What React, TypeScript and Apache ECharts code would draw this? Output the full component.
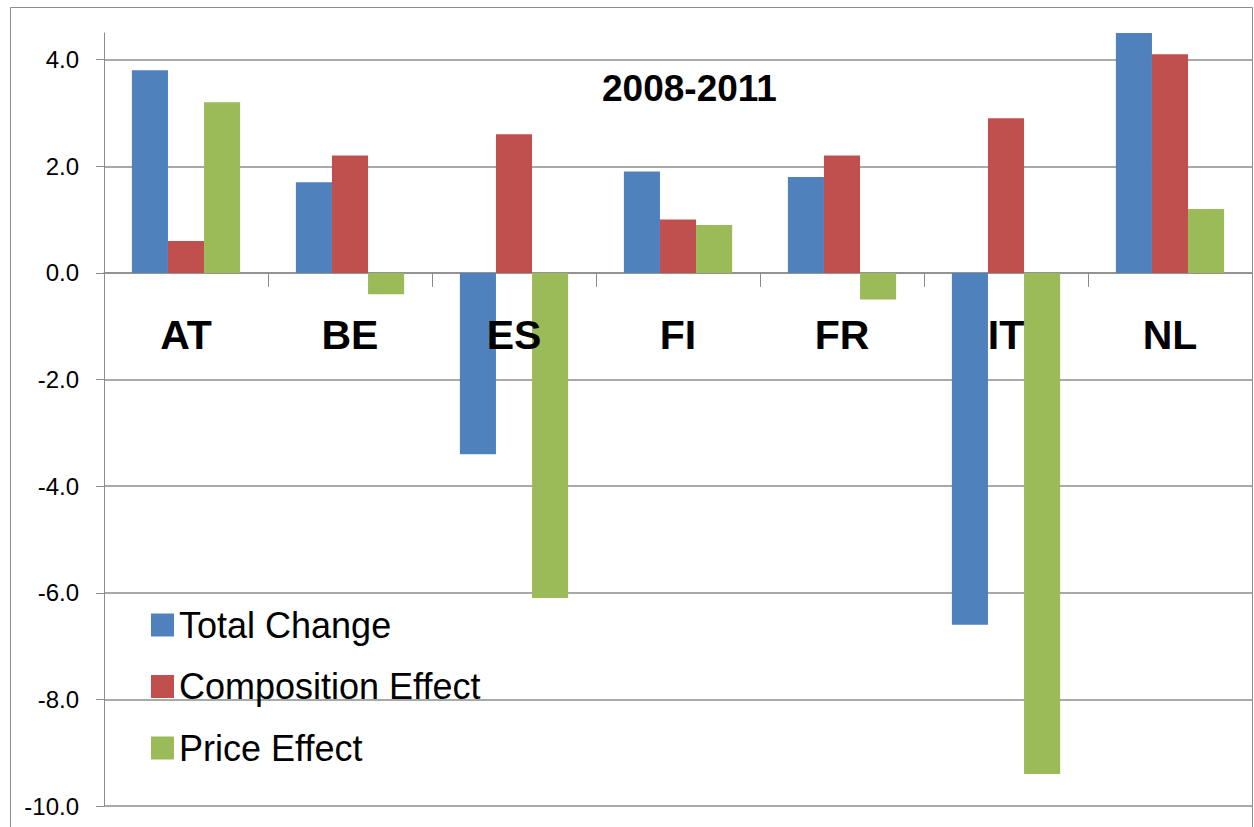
import React, { useEffect, useRef } from "react";
import * as echarts from "echarts";

const categories = ["AT", "BE", "ES", "FI", "FR", "IT", "NL"];
const totalChange = [3.8, 1.7, -3.4, 1.9, 1.8, -6.6, 4.5];
const compositionEffect = [0.6, 2.2, 2.6, 1.0, 2.2, 2.9, 4.1];
const priceEffect = [3.2, -0.4, -6.1, 0.9, -0.5, -9.4, 1.2];
const seriesNames = ["Total Change", "Composition Effect", "Price Effect"];
const seriesColors = ["#4F81BD", "#C0504D", "#9BBB59"];
const chartTitle = "2008-2011";
const yMin = -10;
const yMax = 4.5;
const yStep = 2;

const FONT = "'Liberation Sans', Arial, sans-serif";
const AXIS_GRAY = "#8c8c8c";

const GRID_TOP = 33;
const GRID_BOTTOM_Y = 806;

export default function App() {
  const ref = useRef<HTMLDivElement>(null);
  useEffect(() => {
    if (!ref.current) return;
    const chart = echarts.init(ref.current, null, { renderer: "svg" });
    const values = [totalChange, compositionEffect, priceEffect];
    const plotH = GRID_BOTTOM_Y - GRID_TOP;
    const zeroY = GRID_TOP + (plotH * (yMax - 0)) / (yMax - yMin);
    chart.setOption({
      animation: false,
      backgroundColor: "#ffffff",
      textStyle: { fontFamily: FONT },
      grid: {
        left: 104,
        top: GRID_TOP,
        right: 2,
        bottom: 827 - GRID_BOTTOM_Y,
        containLabel: false,
        outerBoundsMode: "none",
      },
      graphic: [
        {
          type: "rect",
          shape: { x: 10.5, y: 7.5, width: 1242, height: 900 },
          style: { fill: "none", stroke: AXIS_GRAY, lineWidth: 1 },
          silent: true,
          z: -1,
        },
        {
          type: "text",
          x: 689.5,
          y: 88.5,
          style: {
            text: chartTitle,
            font: `bold 37px ${FONT}`,
            fill: "#000",
            align: "center",
            verticalAlign: "middle",
          },
          z: 10,
        },
      ],
      legend: {
        orient: "vertical",
        left: 146,
        top: 602,
        icon: "rect",
        itemWidth: 23,
        itemHeight: 23,
        itemGap: 25.5,
        data: seriesNames,
        textStyle: {
          fontSize: 36,
          color: "#000",
          fontFamily: FONT,
        },
      },
      xAxis: [
        {
          type: "category",
          data: categories,
          axisLine: { show: true, onZero: true, lineStyle: { color: AXIS_GRAY, width: 1.5 } },
          axisTick: { show: true, length: 14, alignWithLabel: false, lineStyle: { color: AXIS_GRAY } },
          axisLabel: { show: false },
          splitLine: { show: false },
        },
        {
          type: "category",
          data: categories,
          position: "bottom",
          offset: -(GRID_BOTTOM_Y - zeroY),
          z: 20,
          axisLine: { show: false, onZero: false },
          axisTick: { show: false },
          axisLabel: {
            fontSize: 41,
            fontWeight: "bold",
            color: "#000",
            fontFamily: FONT,
            margin: 62,
            verticalAlign: "middle",
          },
          splitLine: { show: false },
        },
      ],
      yAxis: {
        type: "value",
        min: yMin,
        max: yMax,
        interval: yStep,
        axisLine: { show: true, lineStyle: { color: AXIS_GRAY, width: 1 } },
        axisTick: { show: true, length: 8, lineStyle: { color: AXIS_GRAY } },
        axisLabel: {
          fontSize: 24,
          color: "#000",
          fontFamily: FONT,
          margin: 25,
          showMaxLabel: false,
          formatter: (v: number) => v.toFixed(1),
        },
        splitLine: {
          show: true,
          showMaxLine: false,
          lineStyle: { color: AXIS_GRAY, width: 1.5 },
        },
      },
      series: seriesNames.map((name, i) => ({
        name,
        type: "bar",
        xAxisIndex: 0,
        data: values[i],
        barGap: "0%",
        barCategoryGap: "34%",
        itemStyle: { color: seriesColors[i] },
        z: 3,
      })),
    });
    return () => chart.dispose();
  }, []);
  return (
    <div
      ref={ref}
      style={{ position: "fixed", left: 0, top: 0, width: 1254, height: 827, background: "#fff" }}
    />
  );
}
